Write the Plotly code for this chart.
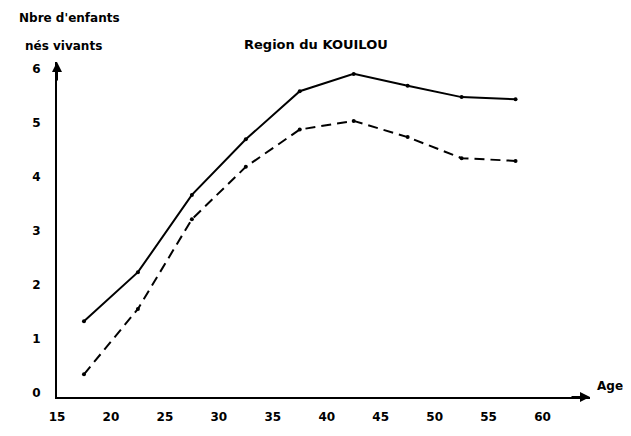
import plotly.graph_objects as go

# Age groups (mid-points of 5-year classes)
ages = [17.5, 22.5, 27.5, 32.5, 37.5, 42.5, 47.5, 52.5, 57.5]

# Nombre moyen d'enfants nés vivants
solid_vals = [1.33, 2.24, 3.67, 4.70, 5.59, 5.91, 5.69, 5.48, 5.44]
dashed_vals = [0.35, 1.56, 3.22, 4.19, 4.88, 5.04, 4.74, 4.35, 4.30]

x_ticks = [15, 20, 25, 30, 35, 40, 45, 50, 55, 60]
y_ticks = [0, 1, 2, 3, 4, 5, 6]

font_family = "DejaVu Sans"

fig = go.Figure()

fig.add_trace(go.Scatter(x=ages, y=solid_vals, mode='lines+markers',
                         line=dict(color='black', width=2),
                         marker=dict(color='black', size=4),
                         showlegend=False))

fig.add_trace(go.Scatter(x=ages, y=dashed_vals, mode='lines+markers',
                         line=dict(color='black', width=2, dash='10px,6px'),
                         marker=dict(color='black', size=4),
                         showlegend=False))

fig.update_xaxes(range=[15, 64.4], tickvals=x_ticks,
                 ticktext=['<b>%d</b>' % v for v in x_ticks],
                 showgrid=False, zeroline=False, showline=True,
                 linecolor='black', linewidth=2, ticks='',
                 ticklabelstandoff=8, automargin=False,
                 tickfont=dict(family=font_family, size=12, color='black'))
fig.update_yaxes(range=[-0.07, 6.13], tickvals=y_ticks,
                 ticktext=['<b>%d</b>' % v for v in y_ticks],
                 showgrid=False, zeroline=False, showline=True,
                 linecolor='black', linewidth=2, ticks='',
                 ticklabelstandoff=12, automargin=False,
                 tickfont=dict(family=font_family, size=12, color='black'))

# arrow heads on the axes
fig.add_annotation(x=15, y=6.13, xref='x', yref='y', text='', showarrow=True,
                   arrowhead=2, arrowsize=1, arrowwidth=2, arrowcolor='black',
                   ax=0, ay=20)
fig.add_annotation(x=64.4, y=-0.07, xref='x', yref='y', text='', showarrow=True,
                   arrowhead=2, arrowsize=1, arrowwidth=2, arrowcolor='black',
                   ax=-20, ay=0)

txt_font = dict(family=font_family, size=12, color='black')
fig.add_annotation(text="<b>Nbre d'enfants</b>", xref='paper', yref='paper',
                   x=-0.075, y=1.131, xanchor='left', yanchor='middle',
                   showarrow=False, font=txt_font)
fig.add_annotation(text="<b>nés vivants</b>", xref='paper', yref='paper',
                   x=-0.064, y=1.048, xanchor='left', yanchor='middle',
                   showarrow=False, font=txt_font)
fig.add_annotation(text="<b>Region du KOUILOU</b>", xref='paper', yref='paper',
                   x=0.347, y=1.052, xanchor='left', yanchor='middle',
                   showarrow=False, font=dict(family=font_family, size=13, color='black'))
fig.add_annotation(text="<b>Age</b>", xref='paper', yref='paper',
                   x=1.009, y=0.033, xanchor='left', yanchor='middle',
                   showarrow=False, font=txt_font)

# page body has an 8px margin, so the figure is sized to fit inside it
fig.update_layout(width=615, height=420,
                  margin=dict(l=49, r=33, t=54, b=31),
                  paper_bgcolor='white', plot_bgcolor='white',
                  font=dict(family=font_family, color='black'))

fig.write_html("out.html")
